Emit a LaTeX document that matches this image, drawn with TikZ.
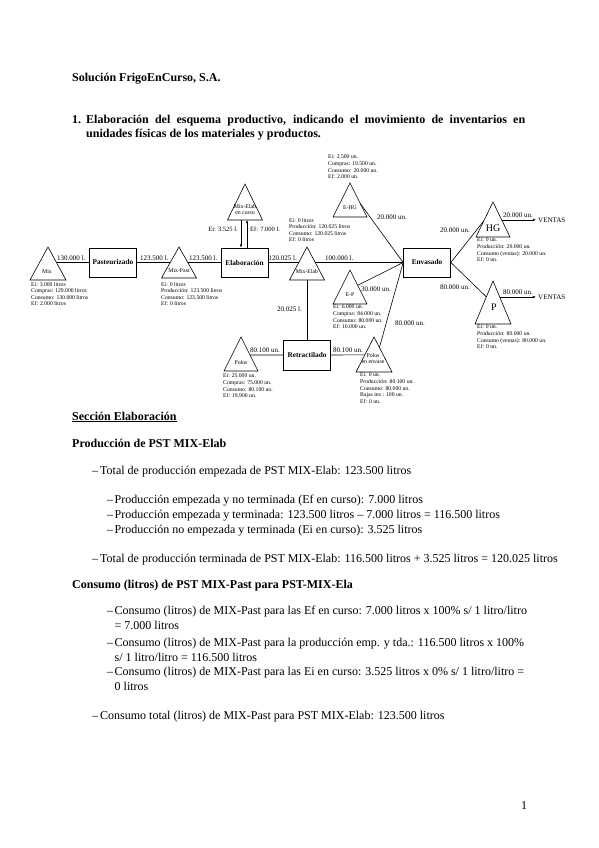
\documentclass[tikz,border=0pt]{standalone}
\usepackage{fontspec}
\setmainfont{Liberation Serif}
\usetikzlibrary{calc,arrows.meta}
\newcommand\mytri[5]{%
  \coordinate (#1-a) at (#2,#3);
  \coordinate (#1-l) at ({#2-#4},#5);
  \coordinate (#1-r) at ({#2+#4},#5);
  \draw[tri] (#1-a) -- (#1-l) -- (#1-r) -- cycle;}
\begin{document}
\begin{tikzpicture}[x=1pt,y=-1pt,
 tri/.style={line width=0.6pt, line join=miter},
 ln/.style={line width=0.6pt},
 arr/.style={line width=0.6pt,-{Latex[length=3.2pt,width=2.6pt]}},
 box/.style={draw,line width=0.7pt,minimum width=47pt,minimum height=29pt,inner sep=0pt,font=\bfseries\fontsize{7.3}{8}\selectfont},
 dat/.style={anchor=north west,inner sep=0pt,align=left,font=\fontsize{5.7}{6.6}\selectfont},
 tl/.style={inner sep=0pt,align=center,font=\fontsize{5.8}{6.6}\selectfont},
 fl/.style={inner sep=0pt,anchor=base west,font=\fontsize{7}{8}\selectfont},
 fr/.style={fl,anchor=base east},
 body/.style={inner sep=0pt,anchor=base west,font=\fontsize{12}{14}\selectfont},
 head/.style={body,font=\bfseries\fontsize{12}{14}\selectfont}]
\useasboundingbox[fill=white] (0,0) rectangle (599,848);

% ---------- header ----------
\node[head] (title) at (72,82) {Solución FrigoEnCurso, S.A.};
\node[head] (q1n) at (72,124) {1.};
\node[head] (q1a) at (86,124) {\makebox[439pt][s]{Elaboración del esquema productivo, indicando el movimiento de inventarios en}};
\node[head] (q1b) at (86,138) {unidades físicas de los materiales y productos.};

% ---------- diagram: triangles and boxes ----------
\mytri{mix}{48}{247}{18}{280}
\node[box] (past) at (113,262.5) {Pasteurizado};
\mytri{mixp}{179}{247}{17.5}{278}
\node[box] (elab) at (244.5,262.5) {Elaboración};
\mytri{cur}{245}{184}{17.5}{220}
\mytri{mixe}{307}{247}{17.5}{280}
\node[box] (env) at (427,262.5) {Envasado};
\mytri{ehg}{350}{183}{17}{217}
\mytri{ep}{350}{270}{17}{304}
\mytri{hg}{493}{202}{17}{237}
\mytri{p}{493}{281}{18}{324}
\mytri{pol}{241}{337}{17}{371}
\mytri{pen}{374}{337}{18}{372}
\node[box,minimum height=30pt] (ret) at (307,355) {Retractilado};

% triangle labels
\node[tl] (mixl) at (47,272) {Mix};
\node[tl] (mixpl) at (179,271) {Mix-Past};
\node[tl] (curl) at (245,209.5) {Mix-Elab\\en curso};
\node[tl] (mixel) at (307,272) {Mix-Elab};
\node[tl] (ehgl) at (350,208) {E-HG};
\node[tl] (epl) at (350,295) {E-P};
\node[tl,font=\fontsize{10}{11}\selectfont] (hgl) at (493,228.5) {HG};
\node[tl,font=\fontsize{10}{11}\selectfont] (pl) at (494,307) {P};
\node[tl] (poll) at (241,363) {Polos};
\node[tl] (penl) at (373,358.5) {Polos\\en envase};

% data blocks
\node[dat] (mixd) at (31,282) {Ei: 3.000 litros\\Compras: 129.000 litros\\Consumo: 130.000 litros\\Ef: 2.000 litros};
\node[dat] (mixpd) at (161,282) {Ei: 0 litros\\Producción: 123.500 litros\\Consumo: 123.500 litros\\Ef: 0 litros};
\node[dat] (mixed) at (289,218) {Ei: 0 litros\\Producción: 120.025 litros\\Consumo: 120.025 litros\\Ef: 0 litros};
\node[dat] (ehgd) at (328,155) {Ei: 2.500 un.\\Compras: 19.500 un.\\Consumo: 20.000 un.\\Ef: 2.000 un.};
\node[dat] (hgd) at (477,238) {Ei: 0 un.\\Producción: 20.000 un.\\Consumo (ventas): 20.000 un.\\Ef: 0 un.};
\node[dat] (epd) at (333,305) {Ei: 6.000 un.\\Compras: 84.000 un.\\Consumo: 80.000 un.\\Ef: 10.000 un.};
\node[dat] (pd) at (477,325) {Ei: 0 un.\\Producción: 80.000 un.\\Consumo (ventas): 80.000 un.\\Ef: 0 un.};
\node[dat] (pold) at (223,374) {Ei: 25.000 un.\\Compras: 75.000 un.\\Consumo: 80.100 un.\\Ef: 19.900 un.};
\node[dat] (pend) at (360,373) {Ei: 0 un.\\Producción: 80.100 un.\\Consumo: 80.000 un.\\Bajas inv.: 100 un.\\Ef: 0 un.};

% connectors
\draw[ln] ($(mix-a)!0.47!(mix-r)$) -- (past.west);
\draw[ln] (past.east) -- ($(mixp-a)!0.5!(mixp-l)$);
\draw[ln] ($(mixp-a)!0.5!(mixp-r)$) -- (elab.west);
\draw[ln] (elab.east) -- ($(mixe-a)!0.47!(mixe-l)$);
\draw[ln] ($(mixe-a)!0.47!(mixe-r)$) -- (env.west);
\draw[arr] ($(cur-l)!0.5!(cur-r)+(-4,0)$) -- ($(elab.north)+(-3.5,0)$);
\draw[arr] ($(elab.north)+(2.5,0)$) -- ($(cur-l)!0.5!(cur-r)+(2,0)$);
\draw[ln] ($(mixe-l)!0.5!(mixe-r)$) -- (ret.north);
\draw[ln] ($(pol-a)!0.53!(pol-r)$) -- (ret.west);
\draw[ln] (ret.east) -- ($(pen-a)!0.51!(pen-l)$);
\draw[ln] ($(pen-a)!0.3!(pen-r)$) -- (env.west);
\draw[ln] ($(ep-a)!0.45!(ep-r)$) -- (env.west);
\draw[ln] ($(ehg-a)!0.6!(ehg-r)$) -- (env.west);
\draw[ln] (env.east) -- ($(hg-a)!0.54!(hg-l)$);
\draw[ln] (env.east) -- ($(p-a)!0.37!(p-l)$);
\node[inner sep=2pt,anchor=west,font=\fontsize{7}{8}\selectfont] (v1) at (536,219.9) {VENTAS};
\node[inner sep=2pt,anchor=west,font=\fontsize{7}{8}\selectfont] (v2) at (536,297) {VENTAS};
\coordinate (hgo) at ($(hg-a)!0.51!(hg-r)$);
\coordinate (po) at ($(p-a)!0.372!(p-r)$);
\draw[arr] (hgo) -- (hgo -| v1.west);
\draw[arr] (po) -- (po -| v2.west);

% flow labels
\node[fl] (f1) at (57,260) {130.000 l.};
\node[fl] (f2) at (140,260) {123.500 l.};
\node[fl] (f3) at (189,260) {123.500 l.};
\node[fl] (f4) at (268.5,260) {120.025 l.};
\node[fl] (f5) at (325,260) {100.000 l.};
\node[inner sep=0pt,anchor=base east,font=\fontsize{6.5}{7}\selectfont] (f6) at (238,231) {Ei: 3.525 l.};
\node[inner sep=0pt,anchor=base west,font=\fontsize{6.5}{7}\selectfont] (f7) at (250,231) {Ef: 7.000 l.};
\node[fl] (f8) at (277,311) {20.025 l.};
\node[fl] (f9) at (377,219) {20.000 un.};
\node[fl] (f10) at (361,291) {30.000 un.};
\node[fl] (f11) at (395,325) {80.000 un.};
\node[fr] (f12) at (470,232) {20.000 un.};
\node[fr] (f13) at (470,289) {80.000 un.};
\node[fl] (f14) at (503,217) {20.000 un.};
\node[fl] (f15) at (503,294) {80.000 un.};
\node[fl] (f16) at (250,352) {80.100 un.};
\node[fl] (f17) at (333,352) {80.100 un.};

% ---------- body text ----------
\node[head] (sec) at (72,420) {\underline{Sección Elaboración}};
\node[head] (prod) at (72,447) {Producción de PST MIX-Elab};
\node[body] (b1) at (92,474.5) {\makebox[8pt][l]{–}Total de producción empezada de PST MIX-Elab: 123.500 litros};
\node[body] (b2) at (107,503.5) {\makebox[7.5pt][l]{–}Producción empezada y no terminada (Ef en curso): 7.000 litros};
\node[body] (b3) at (107,518.5) {\makebox[7.5pt][l]{–}Producción empezada y terminada: 123.500 litros – 7.000 litros = 116.500 litros};
\node[body] (b4) at (107,533.5) {\makebox[7.5pt][l]{–}Producción no empezada y terminada (Ei en curso): 3.525 litros};
\node[body] (b5) at (92,562) {\makebox[8pt][l]{–}Total de producción terminada de PST MIX-Elab: 116.500 litros + 3.525 litros = 120.025 litros};
\node[head] (cons) at (72,588.5) {Consumo (litros) de PST MIX-Past para PST-MIX-Ela};
\node[body] (c1) at (107,614) {\makebox[7.5pt][l]{–}Consumo (litros) de MIX-Past para las Ef en curso: 7.000 litros x 100\% s/ 1 litro/litro};
\node[body] (c1b) at (114.5,629) {= 7.000 litros};
\node[body] (c2) at (107,646) {\makebox[7.5pt][l]{–}Consumo (litros) de MIX-Past para la producción emp. y tda.: 116.500 litros x 100\%};
\node[body] (c2b) at (114.5,661) {s/ 1 litro/litro = 116.500 litros};
\node[body] (c3) at (107,675.5) {\makebox[7.5pt][l]{–}Consumo (litros) de MIX-Past para las Ei en curso: 3.525 litros x 0\% s/ 1 litro/litro =};
\node[body] (c3b) at (114.5,690.5) {0 litros};
\node[body] (c4) at (92,719.5) {\makebox[8pt][l]{–}Consumo total (litros) de MIX-Past para PST MIX-Elab: 123.500 litros};
\node[body] (pg) at (521,809) {1};
\end{tikzpicture}
\end{document}
